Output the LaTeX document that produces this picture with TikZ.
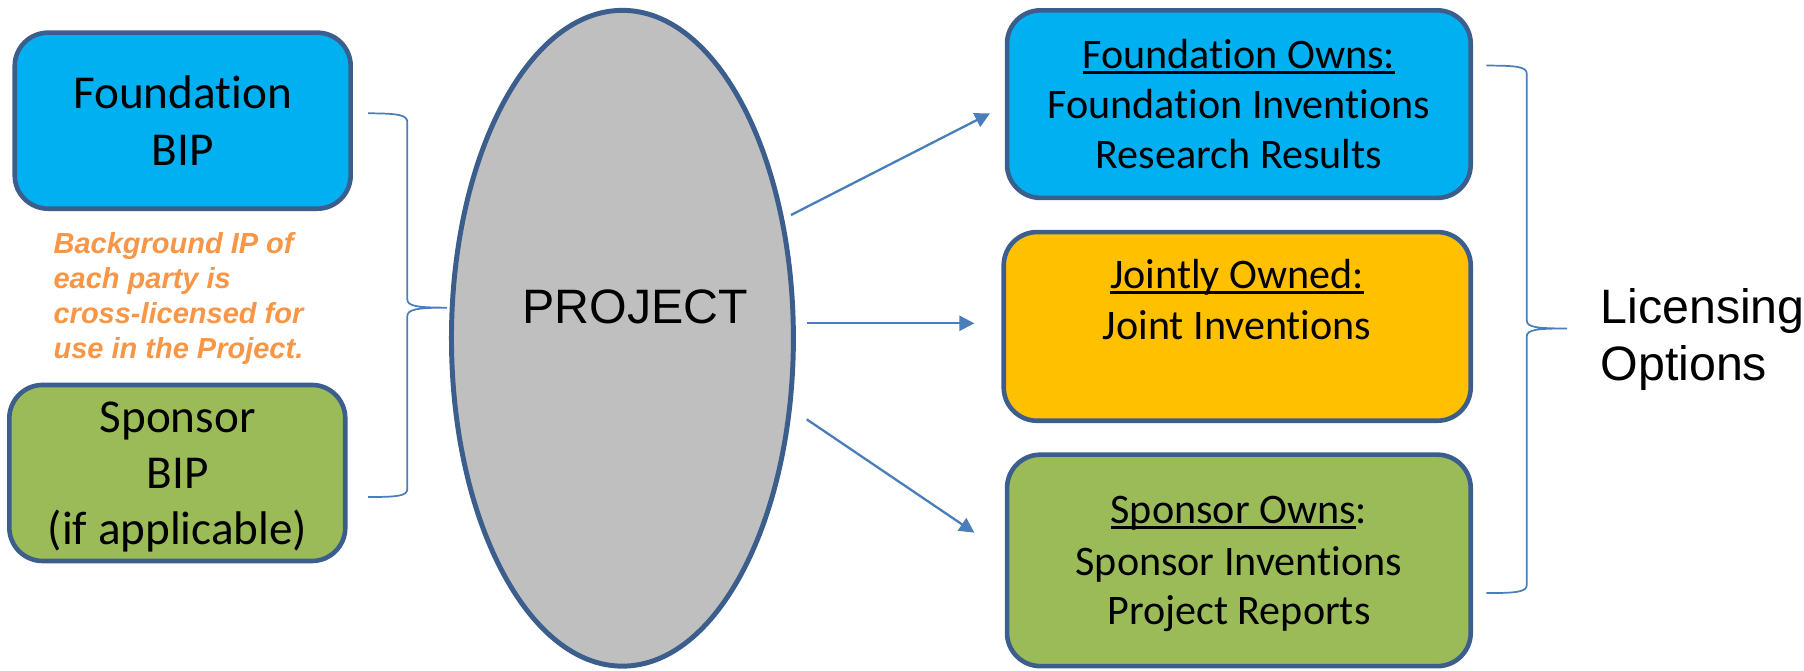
\documentclass[tikz,border=0pt]{standalone}
\usepackage{fontspec}
\setmainfont{Carlito}[Ligatures=NoCommon]
\newfontfamily\arialf{Liberation Sans}
\usetikzlibrary{arrows.meta,shapes.geometric}
\definecolor{bxblue}{HTML}{00B0F0}
\definecolor{bxgold}{HTML}{FFC000}
\definecolor{bxgreen}{HTML}{9BBB59}
\definecolor{bxedge}{HTML}{3B5E8C}
\definecolor{lnblue}{HTML}{4A7EBB}
\definecolor{orng}{HTML}{F79646}
\definecolor{ellfill}{HTML}{BFBFBF}
\newcommand\myul[1]{\setbox0=\hbox{#1}\rlap{\rule[-4.7pt]{\wd0}{2.4pt}}\box0}
\tikzset{
  rbox/.style={draw=bxedge, line width=4pt, rounded corners=29pt, rectangle, inner sep=0pt},
  lefttxt/.style={font=\fontsize{41}{48}\selectfont, inner sep=0pt, anchor=base},
  righttxt/.style={font=\fontsize{36.6}{43}\selectfont, inner sep=0pt, anchor=base},
  notetxt/.style={font=\arialf\bfseries\itshape\fontsize{25.2}{30}\selectfont, text=orng, inner sep=0pt, anchor=base west},
  bigtxt/.style={font=\arialf\fontsize{42}{49}\selectfont, inner sep=0pt},
  conn/.style={draw=lnblue, line width=2pt, -{Triangle[length=13pt,width=13pt]}},
  bracepath/.style={draw=lnblue, line width=1.5pt}
}
\begin{document}
\begin{tikzpicture}[x=1pt,y=-1pt]
\useasboundingbox (0,0) rectangle (1568,582.4);

% left boxes
\node[rbox, fill=bxblue, minimum width=292pt, minimum height=153pt] (fbip) at (158.8,104.9) {};
\node[rbox, fill=bxgreen, minimum width=292pt, minimum height=153pt] (sbip) at (154.1,411.1) {};
\node[lefttxt] (fbip1) at (158.7,94) {Foundation};
\node[lefttxt] (fbip2) at (158.7,144) {BIP};
\node[lefttxt] (sbip1) at (154.4,376) {Sponsor};
\node[lefttxt] (sbip2) at (154.4,424.5) {BIP};
\node[lefttxt] (sbip3) at (154.4,473.7) {(if applicable)};

% note
\node[notetxt] (n1) at (46.4,220.2) {Background IP of};
\node[notetxt] (n2) at (46.4,250.6) {each party is};
\node[notetxt] (n3) at (46.4,281) {cross-licensed for};
\node[notetxt] (n4) at (46.4,311.4) {use in the Project.};

% left brace
\draw[bracepath] (320,98.5) .. controls (346,98.5) and (354,100) .. (354,106) -- (354,260)
  .. controls (354,266) and (362,267.4) .. (388.5,267.4)
  .. controls (362,267.4) and (354,269) .. (354,275) -- (354,425)
  .. controls (354,431) and (346,432) .. (320,432);

% project ellipse
\node[ellipse, draw=bxedge, fill=ellfill, line width=4.3pt, inner sep=0pt, minimum width=297.2pt, minimum height=570pt] (proj) at (541,294) {};
\node[bigtxt, anchor=base] (projt) at (552,281) {PROJECT};

% right boxes
\node[rbox, fill=bxblue, minimum width=403pt, minimum height=163pt] (fo) at (1076.8,90.5) {};
\node[rbox, fill=bxgold, minimum width=405.9pt, minimum height=164pt] (jo) at (1075.35,283.7) {};
\node[rbox, fill=bxgreen, minimum width=403pt, minimum height=183.8pt] (so) at (1076.8,487.1) {};

\node[righttxt] (fo1) at (1076.8,59.4) {\myul{Foundation Owns:}};
\node[righttxt] (fo2) at (1076.8,102.9) {Foundation Inventions};
\node[righttxt] (fo3) at (1076.8,146.3) {Research Results};
\node[righttxt] (jo1) at (1075.3,250.6) {\myul{Jointly Owned:}};
\node[righttxt] (jo2) at (1075.3,295) {Joint Inventions};
\node[righttxt] (so1) at (1076.8,454.9) {\myul{Sponsor Owns}:};
\node[righttxt] (so2) at (1076.8,499.8) {Sponsor Inventions};
\node[righttxt] (so3) at (1076.8,543.2) {Project Reports};

% arrows
\coordinate (a1s) at (687.5,186.9);
\coordinate (a1e) at (860.5,98.5);
\coordinate (a2s) at (701.2,281);
\coordinate (a2e) at (846.9,281);
\coordinate (a3s) at (701.2,364.5);
\coordinate (a3e) at (846.9,463);
\draw[conn] (a1s) -- (a1e);
\draw[conn] (a2s) -- (a2e);
\draw[conn] (a3s) -- (a3e);

% right brace
\draw[bracepath] (1292,57) .. controls (1318,57) and (1327,58) .. (1327,64) -- (1327,278.5)
  .. controls (1327,284.5) and (1336,285.5) .. (1362,285.5)
  .. controls (1336,285.5) and (1327,286.5) .. (1327,292.5) -- (1327,508.5)
  .. controls (1327,514.5) and (1318,515.5) .. (1292,515.5);

\node[bigtxt, anchor=base west] (lic1) at (1391,281) {Licensing};
\node[bigtxt, anchor=base west] (lic2) at (1391,330.5) {Options};
\end{tikzpicture}
\end{document}
